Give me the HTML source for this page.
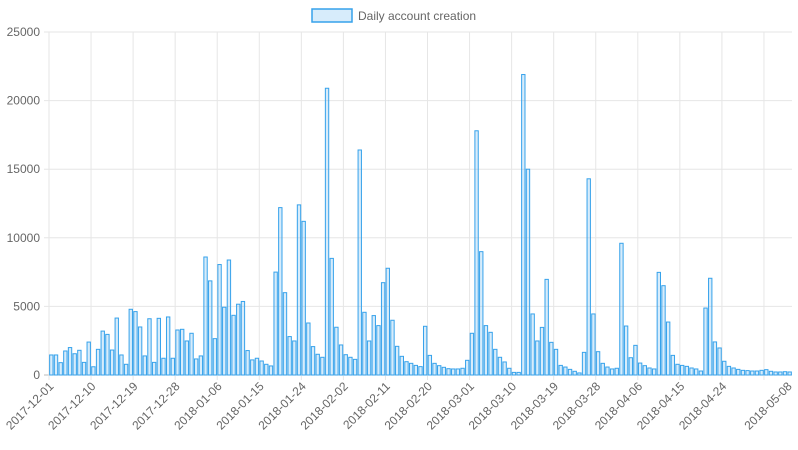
<!DOCTYPE html>
<html><head><meta charset="utf-8"><style>
body{margin:0;background:#fff;}
svg{display:block;font-family:"Liberation Sans",sans-serif;}
</style></head><body>
<svg id="chart" width="798" height="450" viewBox="0 0 798 450">
<g>
<rect x="312" y="9" width="40" height="13" fill="rgba(54,162,235,0.2)" stroke="rgb(54,162,235)" stroke-width="1.5"/>
<text x="358" y="20" font-size="12" fill="#666">Daily account creation</text>
</g>
<g id="grid"></g><g id="bars"></g><g id="labels"></g>
</svg>
<script>
const startDate = "2017-12-01";
const values = [1460,1460,900,1750,2000,1550,1800,920,2400,600,1870,3200,2960,1820,4150,1460,780,4790,4620,3500,1390,4100,920,4130,1220,4230,1220,3280,3330,2480,3040,1170,1390,8600,6860,2650,8050,4940,8380,4350,5160,5360,1780,1100,1220,1020,780,660,7500,12200,6000,2800,
2480,12400,11200,3790,2070,1510,1290,20900,8500,3480,2190,1480,1290,1140,16400,4570,2480,4330,3600,6730,7780,3990,2090,1360,970,850,700,610,3550,1430,850,680,560,460,440,440,490,1070,3040,17800,8990,3600,3110,1870,1290,950,490,190,190,21900,15000,
4450,2480,3470,6970,2380,1870,700,580,410,270,150,1650,14300,4450,1700,850,580,440,490,9600,3570,1260,2160,870,680,510,440,7480,6510,3860,1430,780,700,630,510,440,290,4880,7050,2410,1970,1000,630,510,410,340,320,290,290,340,390,270,220,220,240,220];
const yTicks = [0,5000,10000,15000,20000,25000];
const tickEvery = 9;

const NS="http://www.w3.org/2000/svg";
const L=49,R=792,T=32,B=375,YMAX=25000;
const n=values.length, step=(R-L)/n;
const xC=i=>L+step*(i+0.5);
const y=v=>B-(v/YMAX)*(B-T);
function mk(tag,attrs,parent){const e=document.createElementNS(NS,tag);for(const k in attrs)e.setAttribute(k,attrs[k]);parent.appendChild(e);return e;}
const grid=document.getElementById('grid'),bars=document.getElementById('bars'),labels=document.getElementById('labels');
function dateStr(i){const d=new Date(startDate+"T00:00:00Z");d.setUTCDate(d.getUTCDate()+i);return d.toISOString().slice(0,10);}
yTicks.forEach(t=>{
  const ln=mk('line',{x1:L-5,x2:R,y1:y(t),y2:y(t),stroke:t===0?'#bbb':'#e6e6e6','stroke-width':1},grid);
  
  
  const tx=mk('text',{x:L-9,y:y(t)+4,'text-anchor':'end','font-size':12,fill:'#666'},labels);
  tx.textContent=t;
  
  
});
mk('line',{x1:L,x2:L,y1:T,y2:B+5,stroke:'#bbb'},grid);
for(let i=0;i<n;i+=tickEvery){
  const gx=xC(i)-step/2;
  const ln=mk('line',{x1:gx,x2:gx,y1:T,y2:B+5,stroke:'#e6e6e6'},grid);
  
  
}
const last=n-1;
const tickIdx=[];for(let i=0;i<n;i+=tickEvery)tickIdx.push(i);
if(tickIdx[tickIdx.length-1]!==last){tickIdx.pop();tickIdx.push(last);}
tickIdx.forEach(i=>{
  const x=xC(i);
  const tx=mk('text',{x:x+3,y:B+12,'text-anchor':'end','font-size':12,fill:'#666',transform:`rotate(-45 ${x+3} ${B+12})`},labels);
  tx.textContent=dateStr(i);
  
  
});
const bw=step*0.72;
values.forEach((v,i)=>{
  const r=mk('rect',{x:xC(i)-bw/2,y:y(v),width:bw,height:B-y(v),fill:'rgba(54,162,235,0.2)',stroke:'rgb(54,162,235)','stroke-width':1},bars);
  
  
});
</script>
</body></html>
